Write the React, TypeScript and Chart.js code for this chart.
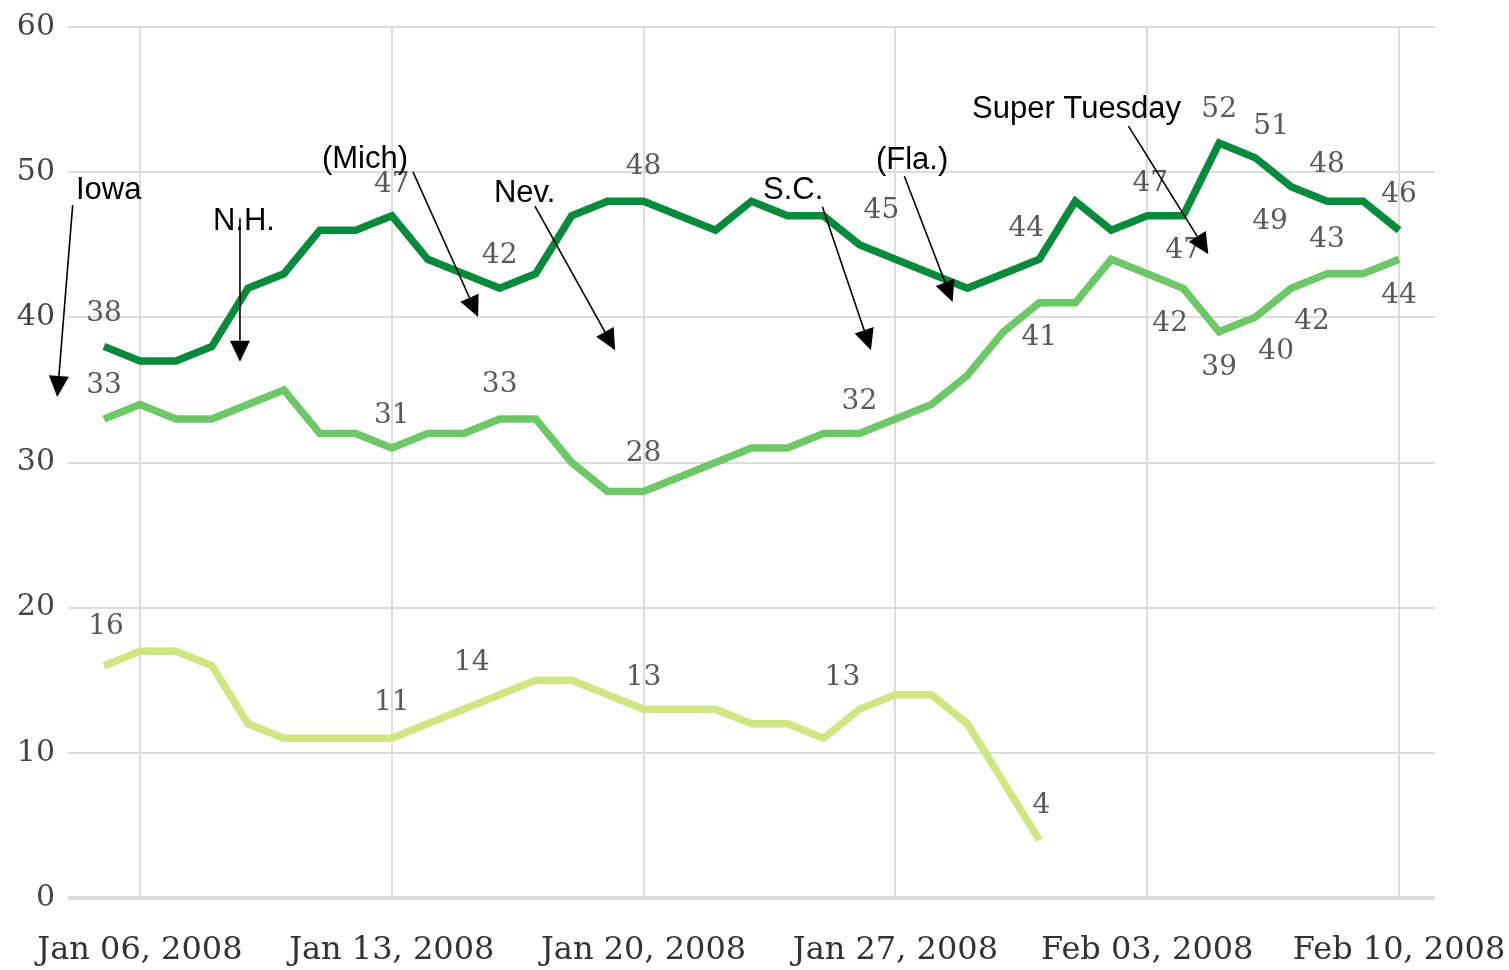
import React, { useEffect, useRef } from "react";
import { Chart, registerables } from "chart.js";

Chart.register(...registerables);

// Daily dates, Jan 05 2008 .. Feb 10 2008 (index 0 .. 36)
const days = [
  "Jan 05", "Jan 06", "Jan 07", "Jan 08", "Jan 09", "Jan 10", "Jan 11", "Jan 12", "Jan 13",
  "Jan 14", "Jan 15", "Jan 16", "Jan 17", "Jan 18", "Jan 19", "Jan 20", "Jan 21", "Jan 22",
  "Jan 23", "Jan 24", "Jan 25", "Jan 26", "Jan 27", "Jan 28", "Jan 29", "Jan 30", "Jan 31",
  "Feb 01", "Feb 02", "Feb 03", "Feb 04", "Feb 05", "Feb 06", "Feb 07", "Feb 08", "Feb 09", "Feb 10",
];

const clinton = [
  38, 37, 37, 38, 42, 43, 46, 46, 47, 44, 43, 42, 43, 47, 48, 48, 47, 46, 48, 47, 47, 45, 44, 43, 42,
  43, 44, 48, 46, 47, 47, 52, 51, 49, 48, 48, 46,
];
const obama = [
  33, 34, 33, 33, 34, 35, 32, 32, 31, 32, 32, 33, 33, 30, 28, 28, 29, 30, 31, 31, 32, 32, 33, 34, 36,
  39, 41, 41, 44, 43, 42, 39, 40, 42, 43, 43, 44,
];
const edwards = [
  16, 17, 17, 16, 12, 11, 11, 11, 11, 12, 13, 14, 15, 15, 14, 13, 13, 13, 12, 12, 11, 13, 14, 14, 12,
  8, 4,
];

const xTickIndex = [1, 8, 15, 22, 29, 36];
const xTickLabels = [
  "Jan 06, 2008", "Jan 13, 2008", "Jan 20, 2008", "Jan 27, 2008", "Feb 03, 2008", "Feb 10, 2008",
];
const yTicks = [0, 10, 20, 30, 40, 50, 60];

// Value labels: [point index, dx px, dy px]
const clintonLabelAt = [
  [0, 0, -33], [8, 0, -31], [11, 0, -33], [15, 0, -34], [21, 22, -34], [26, -13, -31],
  [29, 3, -32], [30, 0, 35], [31, 0, -33], [32, 16, -31], [33, -21, 35], [34, 0, -36], [36, 0, -36],
];
const obamaLabelAt = [
  [0, 0, -33], [8, 0, -32], [11, 0, -34], [15, 0, -38], [21, 0, -32], [26, 0, 35],
  [30, -13, 35], [31, 0, 36], [32, 21, 34], [33, 21, 33], [34, 0, -34], [36, 0, 36],
];
const edwardsLabelAt = [
  [0, 2, -39], [8, 0, -36], [11, -28, -32], [15, 0, -32], [21, -17, -32], [26, 2, -34],
];

// Event annotations, in (day index, value) coordinates
const eventNames = ["Iowa", "N.H.", "(Mich)", "Nev.", "S.C.", "(Fla.)", "Super Tuesday"];
const eventTextAt = [
  [-0.78, 48.14], [3.03, 46.01], [6.06, 50.28], [10.84, 47.95], [18.32, 48.14], [21.46, 50.19], [24.13, 53.7],
];
const eventArrowFrom = [
  [-0.87, 47.73], [3.78, 46.83], [8.59, 50.02], [11.98, 47.66], [19.97, 47.61], [22.25, 49.72], [28.48, 53.17],
];
const eventArrowTo = [
  [-1.3, 34.52], [3.78, 36.94], [10.4, 40.03], [14.21, 37.74], [21.32, 37.74], [23.59, 41.06], [30.7, 44.35],
];

const SERIF = "'DejaVu Serif', serif";
const SANS = "'Liberation Sans', Arial, sans-serif";

const labelsPlugin = {
  id: "valueLabelsAndEvents",
  afterDatasetsDraw(chart: any) {
    const ctx = chart.ctx;
    const xs = chart.scales.x;
    const ys = chart.scales.y;
    const sets = [
      { data: clinton, at: clintonLabelAt },
      { data: obama, at: obamaLabelAt },
      { data: edwards, at: edwardsLabelAt },
    ];
    ctx.save();
    ctx.font = `28px ${SERIF}`;
    ctx.fillStyle = "#595959";
    ctx.textAlign = "center";
    ctx.textBaseline = "middle";
    sets.forEach((s) => {
      s.at.forEach(([i, dx, dy]) => {
        const px = xs.getPixelForValue(i) + dx;
        const py = ys.getPixelForValue(s.data[i]) + dy;
        ctx.fillText(String(s.data[i]), px, py);
      });
    });

    // events
    ctx.font = `31px ${SANS}`;
    ctx.fillStyle = "#000";
    ctx.strokeStyle = "#000";
    ctx.textAlign = "left";
    ctx.textBaseline = "alphabetic";
    eventNames.forEach((name, k) => {
      const tx = xs.getPixelForValue(eventTextAt[k][0]);
      const ty = ys.getPixelForValue(eventTextAt[k][1]);
      ctx.fillText(name, tx, ty);
      const x1 = xs.getPixelForValue(eventArrowFrom[k][0]);
      const y1 = ys.getPixelForValue(eventArrowFrom[k][1]);
      const x2 = xs.getPixelForValue(eventArrowTo[k][0]);
      const y2 = ys.getPixelForValue(eventArrowTo[k][1]);
      const ang = Math.atan2(y2 - y1, x2 - x1);
      const headLen = 21;
      const headHalf = 10;
      const bx = x2 - headLen * Math.cos(ang);
      const by = y2 - headLen * Math.sin(ang);
      ctx.lineWidth = 1.6;
      ctx.beginPath();
      ctx.moveTo(x1, y1);
      ctx.lineTo(bx, by);
      ctx.stroke();
      ctx.beginPath();
      ctx.moveTo(x2, y2);
      ctx.lineTo(bx + headHalf * Math.sin(ang), by - headHalf * Math.cos(ang));
      ctx.lineTo(bx - headHalf * Math.sin(ang), by + headHalf * Math.cos(ang));
      ctx.closePath();
      ctx.fill();
    });
    ctx.restore();
  },
};

export default function App() {
  const canvasRef = useRef<HTMLCanvasElement | null>(null);

  useEffect(() => {
    const canvas = canvasRef.current;
    if (!canvas) return;
    const toPts = (arr: number[]) => arr.map((v, i) => ({ x: i, y: v }));
    const lineStyle = {
      borderWidth: 7.5,
      pointRadius: 0,
      tension: 0,
      fill: false,
    };
    const chart = new Chart(canvas, {
      type: "line",
      data: {
        labels: days,
        datasets: [
          { label: "Clinton", data: toPts(clinton), borderColor: "#088a3d", ...lineStyle },
          { label: "Obama", data: toPts(obama), borderColor: "#6dc766", ...lineStyle },
          { label: "Edwards", data: toPts(edwards), borderColor: "#cfe682", ...lineStyle },
        ],
      },
      options: {
        responsive: false,
        animation: false,
        layout: { padding: { left: 0, right: 74, top: 27, bottom: 0 } },
        plugins: {
          legend: { display: false },
          tooltip: { enabled: false },
        },
        scales: {
          x: {
            type: "linear",
            min: -1,
            max: 37,
            afterBuildTicks: (s: any) => {
              s.ticks = xTickIndex.map((v) => ({ value: v }));
            },
            afterFit: (s: any) => {
              s.height = 72;
              s.paddingLeft = 0;
              s.paddingRight = 0;
            },
            grid: { color: "#dddddd", lineWidth: 2, drawTicks: false },
            border: { display: false },
            ticks: {
              autoSkip: false,
              maxRotation: 0,
              padding: 33,
              color: "#333333",
              font: { family: SERIF, size: 32 },
              callback: (v: any) => {
                const k = xTickIndex.indexOf(Number(v));
                return k >= 0 ? xTickLabels[k] : "";
              },
            },
          },
          y: {
            min: 0,
            max: 60,
            afterBuildTicks: (s: any) => {
              s.ticks = yTicks.map((v) => ({ value: v }));
            },
            afterFit: (s: any) => {
              s.width = 68;
              s.paddingTop = 0;
              s.paddingBottom = 0;
            },
            grid: {
              color: "#dddddd",
              lineWidth: (c: any) => (c.tick && c.tick.value === 0 ? 4 : 2),
              drawTicks: false,
            },
            border: { display: false },
            ticks: {
              padding: 13,
              color: "#444444",
              font: { family: SERIF, size: 30 },
            },
          },
        },
      },
      plugins: [labelsPlugin],
    });
    return () => chart.destroy();
  }, []);

  return (
    <div style={{ position: "absolute", left: 0, top: 0, width: 1509, height: 970, background: "#fff" }}>
      <canvas ref={canvasRef} width={1509} height={970} style={{ width: 1509, height: 970 }} />
    </div>
  );
}
